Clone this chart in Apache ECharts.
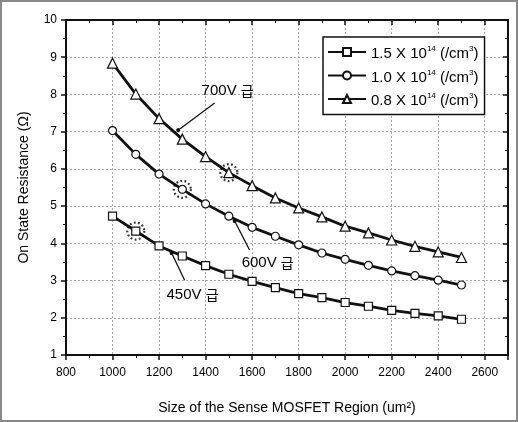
<!DOCTYPE html>
<html>
<head>
<meta charset="utf-8">
<script src="https://cdn.jsdelivr.net/npm/echarts@6/dist/echarts.min.js"></script>
<style>
  html, body { margin: 0; padding: 0; background: #fff; }
  #chart { width: 518px; height: 422px; box-sizing: border-box; border: 2px solid #888; }
</style>
</head>
<body>
<div id="chart"></div>
<script>
// sense MOSFET size (um^2)
const sizes = [1000, 1100, 1200, 1300, 1400, 1500, 1600, 1700, 1800, 1900, 2000, 2100, 2200, 2300, 2400, 2500]
// on state resistance (ohm) for each doping
const r15 = [4.73, 4.33, 3.93, 3.66, 3.40, 3.17, 2.98, 2.81, 2.65, 2.54, 2.41, 2.31, 2.20, 2.12, 2.05, 1.96]
const r10 = [7.03, 6.39, 5.86, 5.45, 5.06, 4.73, 4.43, 4.19, 3.96, 3.74, 3.57, 3.41, 3.26, 3.13, 3.01, 2.88]
const r08 = [8.84, 8.01, 7.35, 6.80, 6.33, 5.90, 5.55, 5.22, 4.95, 4.71, 4.46, 4.28, 4.09, 3.92, 3.77, 3.62]
const names = ['1.5 X 10^14', '1.0 X 10^14', '0.8 X 10^14']
const xTicks = [800, 1000, 1200, 1400, 1600, 1800, 2000, 2200, 2400, 2600]
const yTicks = [1, 2, 3, 4, 5, 6, 7, 8, 9, 10]

// highlighted points (dotted circles)
const marked = [[1100, 4.33], [1300, 5.45], [1500, 5.90]]

// voltage class notes: text anchor and pointer line (data coords)
const notes = [
  { text: '700V 급', at: [1383, 8.09], from: [1439, 7.77], to: [1282, 7.04] },
  { text: '600V 급', at: [1555, 3.47], from: [1589, 3.82], to: [1525, 4.60] },
  { text: '450V 급', at: [1232, 2.61], from: [1310, 3.01], to: [1254, 3.74] }
]

const myChart = echarts.init(document.getElementById('chart'))
const pair = (ys) => sizes.map((x, i) => [x, ys[i]])
const font = 'Liberation Sans, Arial, sans-serif'

const curve = (name, ys, symbol) => ({
  name: name,
  type: 'line',
  data: pair(ys),
  symbol: symbol,
  symbolSize: symbol === 'triangle' ? 10 : 8,
  showSymbol: true,
  lineStyle: { color: '#111', width: 2.8 },
  itemStyle: { color: '#fff', borderColor: '#111', borderWidth: 1.2 },
  z: 3
})

const option = {
  animation: false,
  textStyle: { fontFamily: font },
  grid: { left: 64, right: 8, top: 18, bottom: 65 },
  legend: {
    left: 321, top: 35,
    orient: 'vertical',
    itemWidth: 38, itemHeight: 10, itemGap: 7,
    padding: [8, 6, 6, 4],
    backgroundColor: '#fff',
    borderColor: '#111', borderWidth: 1.5,
    data: names,
    formatter: (n) => {
      const p = n.split('^')
      return '{b|' + p[0] + '}{s|' + p[1] + '}{b| (/cm}{s|3}{b|)}'
    },
    textStyle: {
      rich: {
        b: { fontSize: 15, color: '#000', fontFamily: font, padding: [4, 0, 0, 0] },
        s: { fontSize: 8, color: '#000', fontFamily: font, padding: [0, 0, 6, 0] }
      }
    }
  },
  xAxis: [{
    type: 'value', min: 800, max: 2700, interval: 200,
    name: 'Size of the Sense MOSFET Region (um²)',
    nameLocation: 'middle', nameGap: 46,
    nameTextStyle: { fontSize: 14, color: '#000' },
    axisLine: { lineStyle: { color: '#111', width: 2 } },
    axisTick: { length: 5, lineStyle: { color: '#111', width: 1.5 } },
    minorTick: { show: true, splitNumber: 2, length: 3, lineStyle: { color: '#111' } },
    axisLabel: {
      fontSize: 12, color: '#000', margin: 12, showMaxLabel: false,
      formatter: (v) => xTicks.includes(v) ? String(v) : ''
    },
    splitLine: { show: true, lineStyle: { color: '#aaa', type: [2, 2], width: 1 } }
  }, {
    type: 'value', min: 800, max: 2700, interval: 200, position: 'top',
    axisLine: { show: true, lineStyle: { color: '#111', width: 2 } },
    axisTick: { show: true, inside: true, length: 5, lineStyle: { color: '#111', width: 1.5 } },
    minorTick: { show: true, splitNumber: 2, length: 3, lineStyle: { color: '#111' } },
    axisLabel: { show: false },
    splitLine: { show: false }
  }],
  yAxis: [{
    type: 'value', min: 1, max: 10, interval: 1,
    name: 'On State Resistance (Ω)',
    nameLocation: 'middle', nameGap: 35,
    nameTextStyle: { fontSize: 14, color: '#000' },
    axisLine: { show: true, lineStyle: { color: '#111', width: 2 } },
    axisTick: { show: true, length: 5, lineStyle: { color: '#111', width: 1.5 } },
    minorTick: { show: true, splitNumber: 2, length: 3, lineStyle: { color: '#111' } },
    axisLabel: {
      fontSize: 12, color: '#000', margin: 9,
      formatter: (v) => yTicks.includes(v) ? String(v) : ''
    },
    splitLine: { show: true, lineStyle: { color: '#aaa', type: [2, 2], width: 1 } }
  }, {
    type: 'value', min: 1, max: 10, interval: 1, position: 'right',
    axisLine: { show: true, lineStyle: { color: '#111', width: 2 } },
    axisTick: { show: true, inside: true, length: 5, lineStyle: { color: '#111', width: 1.5 } },
    minorTick: { show: true, splitNumber: 2, length: 3, lineStyle: { color: '#111' } },
    axisLabel: { show: false },
    splitLine: { show: false }
  }],
  series: [
    curve(names[0], r15, 'rect'),
    curve(names[1], r10, 'circle'),
    curve(names[2], r08, 'triangle'),
    {
      type: 'scatter',
      data: marked,
      symbol: 'circle',
      symbolSize: 17,
      itemStyle: { color: 'rgba(0,0,0,0)', borderColor: '#000', borderWidth: 2.2, borderType: [1.8, 2.4] },
      z: 4
    },
    {
      type: 'line',
      data: [],
      markLine: {
        silent: true,
        symbol: ['none', 'circle'],
        symbolSize: 4,
        lineStyle: { color: '#111', width: 1.3, type: 'solid' },
        label: { show: false },
        data: notes.map((n) => [{ coord: n.from }, { coord: n.to }])
      },
      markPoint: {
        silent: true,
        symbol: 'circle', symbolSize: 0,
        label: {
          show: true, position: 'right', distance: 0,
          formatter: (p) => {
            const i = p.name.indexOf(' ')
            return '{a|' + p.name.slice(0, i + 1) + '}{k|' + p.name.slice(i + 1) + '}'
          },
          rich: {
            a: { fontSize: 15, color: '#000', fontFamily: font },
            k: { fontSize: 14, color: '#000', fontFamily: 'Noto Sans CJK KR' }
          }
        },
        data: notes.map((n) => ({ name: n.text, coord: n.at }))
      }
    }
  ]
}
myChart.setOption(option)
window.addEventListener('resize', function () {
  myChart.resize()
})
</script>
</body>
</html>
